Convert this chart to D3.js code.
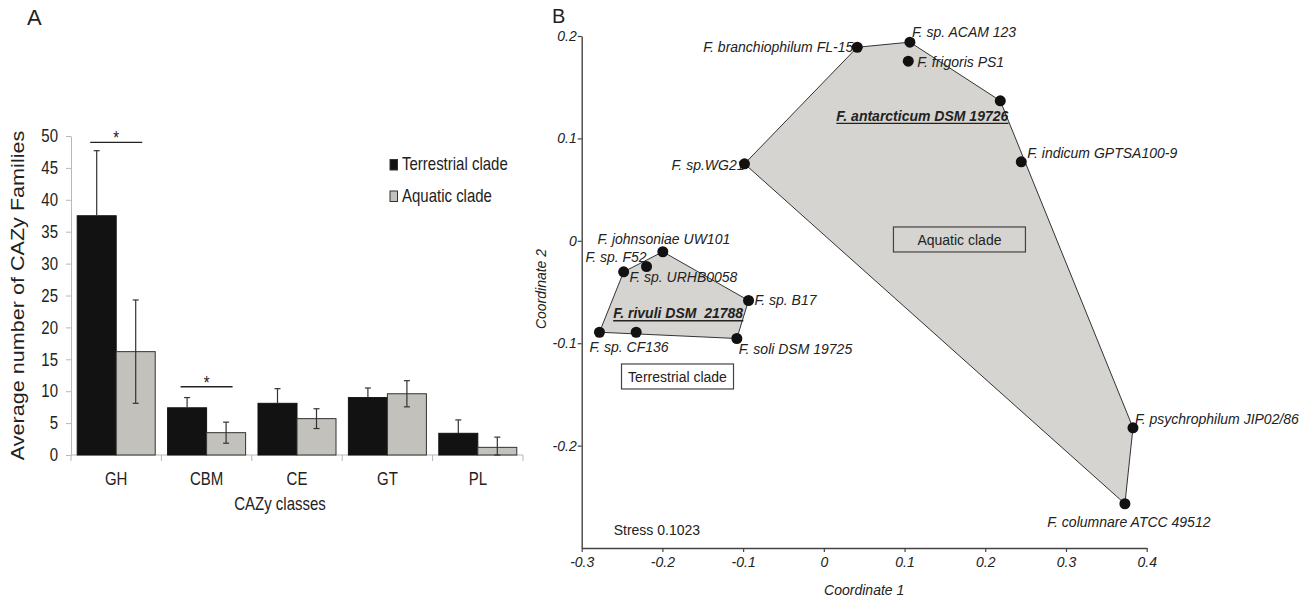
<!DOCTYPE html>
<html>
<head>
<meta charset="utf-8">
<script src="https://cdn.jsdelivr.net/npm/d3@7"></script>
<style>
  body { margin: 0; background: #fff; }
  svg { display: block; }
</style>
</head>
<body>
<svg width="1307" height="598"></svg>
<script>
var font = "'Liberation Sans', Arial, sans-serif";

// ---- panel A data
var categories = ["GH", "CBM", "CE", "GT", "PL"];
var terrestrial = [37.5, 7.4, 8.1, 9.0, 3.4];
var terrestrialErr = [10.2, 1.6, 2.3, 1.5, 2.1];
var aquatic = [16.2, 3.5, 5.7, 9.6, 1.2];
var aquaticErr = [8.1, 1.65, 1.55, 2.05, 1.6];
var yTicksA = [0, 5, 10, 15, 20, 25, 30, 35, 40, 45, 50];
var sigCategories = ["GH", "CBM"];
var sigLevels = [49, 10.7];
var seriesNames = ["Terrestrial clade", "Aquatic clade"];

// ---- panel B data
var strains = ["F. branchiophilum FL-15", "F. sp. ACAM 123", "F. frigoris PS1",
  "F. antarcticum DSM 19726", "F. indicum GPTSA100-9", "F. sp.WG21",
  "F. psychrophilum JIP02/86", "F. columnare ATCC 49512", "F. johnsoniae UW101",
  "F. sp. F52", "F. sp. URHB0058", "F. sp. B17", "F. sp. CF136",
  "F. rivuli DSM  21788", "F. soli DSM 19725"];
var coord1 = [0.0414, 0.1066, 0.1046, 0.2186, 0.2446, -0.0983, 0.383, 0.373,
  -0.1995, -0.248, -0.2197, -0.0933, -0.278, -0.2325, -0.1078];
var coord2 = [0.189, 0.194, 0.1754, 0.1367, 0.0771, 0.0752, -0.1826, -0.2568,
  -0.0107, -0.0303, -0.0251, -0.0583, -0.0893, -0.0893, -0.0954];
var clade = ["Aquatic", "Aquatic", "Aquatic", "Aquatic", "Aquatic", "Aquatic", "Aquatic", "Aquatic",
  "Terrestrial", "Terrestrial", "Terrestrial", "Terrestrial", "Terrestrial", "Terrestrial", "Terrestrial"];
var typeStrain = [false, false, false, true, false, false, false, false,
  false, false, false, false, false, true, false];
var xTicksB = [-0.3, -0.2, -0.1, 0, 0.1, 0.2, 0.3, 0.4];
var xTickLabelsB = ["-0.3", "-0.2", "-0.1", "0", "0.1", "0.2", "0.3", "0.4"];
var yTicksB = [-0.2, -0.1, 0, 0.1, 0.2];
var yTickLabelsB = ["-0.2", "-0.1", "0", "0.1", "0.2"];
var stress = "Stress 0.1023";

// label placement (dx, dy, anchor) for each strain, layout only
var labelPos = [[-4, 5, "end"], [2, -5, "start"], [9, 6, "start"], [8, 20, "end"],
  [6, -4, "start"], [0, 6, "end"], [2, -4, "start"], [4, 23, "middle"],
  [1, -8, "middle"], [23, -10, "end"], [-17, 15, "start"], [6, 5, "start"],
  [-10, 20, "start"], [-23, -14, "start"], [2, 16, "start"]];

var svg = d3.select("svg").attr("font-family", font);

// ================= Panel A =================
var xA = d3.scaleBand().domain(categories).range([71, 523])
  .paddingInner(0.137).paddingOuter(0.0685);
var sub = d3.scaleBand().domain([0, 1]).range([0, xA.bandwidth()]);
var yA = d3.scaleLinear().domain([0, 50]).range([455, 136]);
var axisGrey = "#b8b8b8";

svg.append("text").attr("x", 27).attr("y", 25).attr("font-size", 22).attr("fill", "#222").text("A");

var yAxis = svg.append("g").attr("transform", "translate(71,0)")
  .call(d3.axisLeft(yA).tickValues(yTicksA).tickSize(5).tickPadding(8).tickSizeOuter(0))
  .attr("font-family", font);
yAxis.select(".domain").attr("stroke", axisGrey);
yAxis.selectAll(".tick line").attr("stroke", axisGrey);
yAxis.selectAll(".tick text").attr("font-size", 15).attr("fill", "#222")
  .attr("transform", "scale(1,1.2)");

// x axis line + separators between categories
svg.append("line").attr("x1", 71).attr("x2", 523).attr("y1", yA(0)).attr("y2", yA(0))
  .attr("stroke", axisGrey);
var seps = categories.map(function(c) { return xA(c) - xA.step() * xA.paddingInner() / 2; });
seps.push(xA.range()[1]);
svg.append("g").selectAll("line").data(seps).join("line")
  .attr("x1", function(d) { return d; }).attr("x2", function(d) { return d; })
  .attr("y1", yA(0)).attr("y2", yA(0) + 6).attr("stroke", axisGrey);

// bars
var values = [terrestrial, aquatic];
var errs = [terrestrialErr, aquaticErr];
var fills = ["#121212", "#c2c1bc"];
var strokes = ["#121212", "#333"];
for (var s = 0; s < 2; s++) {
  svg.append("g").selectAll("rect").data(categories).join("rect")
    .attr("x", function(c) { return xA(c) + sub(s); })
    .attr("y", function(c, i) { return yA(values[s][i]); })
    .attr("width", sub.bandwidth())
    .attr("height", function(c, i) { return yA(0) - yA(values[s][i]); })
    .attr("fill", fills[s]).attr("stroke", strokes[s]).attr("stroke-width", 1);
}

// error bars (lower half of the terrestrial ones disappears in the black bar)
for (var s = 0; s < 2; s++) {
  categories.forEach(function(c, i) {
    var cx = xA(c) + sub(s) + sub.bandwidth() / 2;
    var hi = yA(values[s][i] + errs[s][i]);
    var lo = s === 0 ? yA(values[s][i]) : yA(Math.max(0, values[s][i] - errs[s][i]));
    var g = svg.append("g").attr("stroke", "#333").attr("stroke-width", 1.2);
    g.append("line").attr("x1", cx).attr("x2", cx).attr("y1", hi).attr("y2", lo);
    g.append("line").attr("x1", cx - 3).attr("x2", cx + 3).attr("y1", hi).attr("y2", hi);
    if (s === 1) g.append("line").attr("x1", cx - 3).attr("x2", cx + 3).attr("y1", lo).attr("y2", lo);
  });
}

// significance markers
sigCategories.forEach(function(c, i) {
  var cx = xA(c) + xA.bandwidth() / 2;
  var yy = yA(sigLevels[i]);
  svg.append("line").attr("x1", cx - 26).attr("x2", cx + 26).attr("y1", yy).attr("y2", yy)
    .attr("stroke", "#222").attr("stroke-width", 1.3);
  svg.append("g").attr("transform", "translate(" + cx + "," + (yy + 2) + ") scale(1,1.2)")
    .append("text").attr("text-anchor", "middle").attr("font-size", 15).attr("fill", "#222").text("*");
});

// category labels
svg.append("g").selectAll("g").data(categories).join("g")
  .attr("transform", function(c) { return "translate(" + (xA(c) + xA.bandwidth() / 2) + ",485) scale(1,1.2)"; })
  .append("text").attr("text-anchor", "middle").attr("font-size", 15).attr("fill", "#222")
  .text(function(c) { return c; });

svg.append("g").attr("transform", "translate(280,510) scale(1,1.2)")
  .append("text").attr("text-anchor", "middle").attr("font-size", 15).attr("fill", "#222")
  .text("CAZy classes");

svg.append("g").attr("transform", "translate(24,295.5) rotate(-90) scale(1.2,1)")
  .append("text").attr("text-anchor", "middle").attr("font-size", 18).attr("fill", "#222")
  .text("Average number of CAZy Families");

// legend
var legY = [170, 201.5];
seriesNames.forEach(function(n, i) {
  svg.append("rect").attr("x", 390).attr("y", legY[i] - 10.5).attr("width", 7.5).attr("height", 10.5)
    .attr("fill", fills[i]).attr("stroke", "#333").attr("stroke-width", 1);
  svg.append("g").attr("transform", "translate(402," + legY[i] + ") scale(1,1.2)")
    .append("text").attr("font-size", 15).attr("fill", "#222").text(n);
});

// ================= Panel B =================
var xB = d3.scaleLinear().domain([-0.3, 0.4]).range([581.7, 1146.7]);
var yB = d3.scaleLinear().domain([-0.3, 0.2]).range([548, 36]);
var dark = "#444";

svg.append("text").attr("x", 552).attr("y", 23).attr("font-size", 20).attr("fill", "#222").text("B");

// hulls
["Aquatic", "Terrestrial"].forEach(function(cl) {
  var pts = [];
  strains.forEach(function(s, i) { if (clade[i] === cl) pts.push([xB(coord1[i]), yB(coord2[i])]); });
  var hull = d3.polygonHull(pts);
  svg.append("path").attr("d", "M" + hull.join("L") + "Z")
    .attr("fill", "#d5d4d0").attr("stroke", "#333").attr("stroke-width", 1);
});

// clade boxes
var cladeBoxes = [["Aquatic clade", 0.168, 0.0013, 132], ["Terrestrial clade", -0.1813, -0.1325, 112]];
cladeBoxes.forEach(function(b) {
  var cx = xB(b[1]), cy = yB(b[2]);
  svg.append("rect").attr("x", cx - b[3] / 2).attr("y", cy - 12.5).attr("width", b[3]).attr("height", 25)
    .attr("fill", "none").attr("stroke", dark).attr("stroke-width", 1.2);
  svg.append("text").attr("x", cx).attr("y", cy).attr("dy", "0.36em").attr("text-anchor", "middle")
    .attr("font-size", 14).attr("fill", "#222").text(b[0]);
});

// axes
var xAxisB = svg.append("g").attr("transform", "translate(0," + yB(-0.3) + ")")
  .call(d3.axisBottom(xB).tickValues(xTicksB).tickFormat(function(d, i) { return xTickLabelsB[i]; })
    .tickSize(4).tickPadding(5).tickSizeOuter(0))
  .attr("font-family", font);
var yAxisB = svg.append("g").attr("transform", "translate(" + xB(-0.3) + ",0)")
  .call(d3.axisLeft(yB).tickValues(yTicksB).tickFormat(function(d, i) { return yTickLabelsB[i]; })
    .tickSize(4).tickPadding(1).tickSizeOuter(0))
  .attr("font-family", font);
[xAxisB, yAxisB].forEach(function(ax) {
  ax.select(".domain").attr("stroke", dark).attr("stroke-width", 1.4);
  ax.selectAll(".tick line").attr("stroke", dark).attr("stroke-width", 1.2);
  ax.selectAll(".tick text").attr("font-size", 14).attr("font-style", "italic").attr("fill", "#222");
});

svg.append("text").attr("x", (xB(-0.3) + xB(0.4)) / 2).attr("y", 595).attr("text-anchor", "middle")
  .attr("font-size", 14).attr("font-style", "italic").attr("fill", "#222").text("Coordinate 1");
svg.append("text").attr("transform", "translate(546,289) rotate(-90)").attr("text-anchor", "middle")
  .attr("font-size", 14).attr("font-style", "italic").attr("fill", "#222").text("Coordinate 2");

svg.append("text").attr("x", xB(-0.3) + 32).attr("y", 535).attr("font-size", 14).attr("fill", "#222").text(stress);

// strain labels
strains.forEach(function(s, i) {
  var p = labelPos[i];
  var t = svg.append("text")
    .attr("x", xB(coord1[i]) + p[0]).attr("y", yB(coord2[i]) + p[1])
    .attr("text-anchor", p[2]).attr("font-size", 14).attr("font-style", "italic")
    .attr("font-weight", typeStrain[i] ? "bold" : "normal")
    .attr("fill", "#222").style("white-space", "pre").text(s);
  if (typeStrain[i]) {
    var bb = t.node().getBBox();
    var by = yB(coord2[i]) + p[1] + 2.5;
    svg.append("line").attr("x1", bb.x).attr("x2", bb.x + bb.width).attr("y1", by).attr("y2", by)
      .attr("stroke", "#222").attr("stroke-width", 1.3);
  }
});

// points
svg.append("g").selectAll("circle").data(strains).join("circle")
  .attr("cx", function(d, i) { return xB(coord1[i]); })
  .attr("cy", function(d, i) { return yB(coord2[i]); })
  .attr("r", 5.5).attr("fill", "#111");
</script>
</body>
</html>
